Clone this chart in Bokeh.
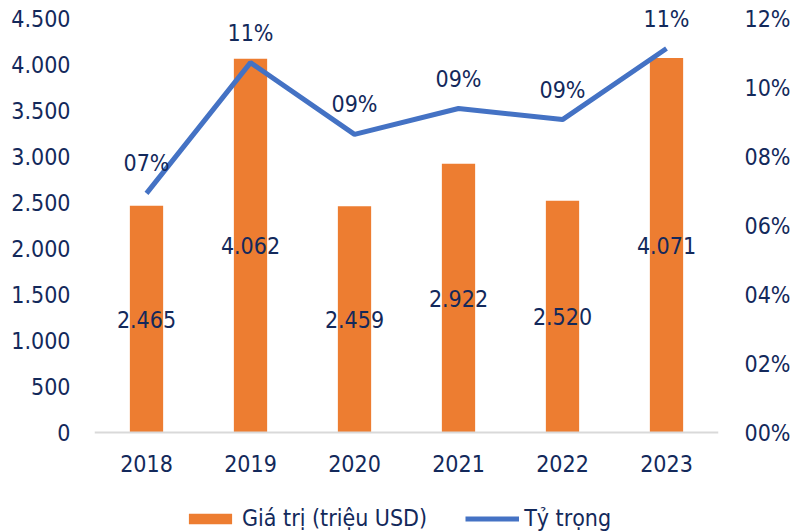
from bokeh.plotting import figure
from bokeh.models import (ColumnDataSource, FactorRange, Range1d, LinearAxis, FixedTicker,
                          CustomJSTickFormatter, Legend, LegendItem, LabelSet, Span)
from bokeh.core.properties import value
from bokeh.embed import file_html
from bokeh.resources import INLINE

years = ["2018", "2019", "2020", "2021", "2022", "2023"]
values = [2465, 4062, 2459, 2922, 2520, 4071]
shares = [6.93, 10.72, 8.64, 9.39, 9.07, 11.13]
left_ticks = [0, 500, 1000, 1500, 2000, 2500, 3000, 3500, 4000, 4500]
right_ticks = [0, 2, 4, 6, 8, 10, 12]

FONT = "DejaVu Sans Condensed"
TXT = "#13295B"
BAR = "#ED7D31"
LINE = "#4472C4"
FS = "23px"

W, H = 794, 531
LEFT, RIGHT = 94, 76
TOP_Y = 18               # pixel row of the top tick (4.500 / 12%)
AXIS_Y = 432             # pixel row of the zero line
span_px = AXIS_Y - TOP_Y
lmax_t, rmax_t = 4500, 12
# the frame covers the whole canvas height; extend the ranges so ticks land on the right rows
lmin = -lmax_t * (H - AXIS_Y) / span_px
rmin = -rmax_t * (H - AXIS_Y) / span_px
lmax = lmax_t + lmax_t * TOP_Y / span_px
rmax = rmax_t + rmax_t * TOP_Y / span_px

def dotted(v):
    return f"{v:,}".replace(",", ".")

src = ColumnDataSource(dict(
    x=years, v=values, mid=[v / 2 for v in values], vl=[dotted(v) for v in values],
    s=shares, sl=["%02d%%" % round(s) for s in shares], zero=[0] * len(years),
))

p = figure(width=W, height=H, x_range=FactorRange(*years, range_padding=0),
           y_range=Range1d(lmin, lmax), output_backend="svg", toolbar_location=None,
           min_border_left=LEFT, min_border_right=RIGHT, min_border_top=0,
           min_border_bottom=0)
p.extra_y_ranges = {"pct": Range1d(rmin, rmax)}
p.outline_line_color = None
p.grid.visible = False
p.background_fill_color = "white"
p.xaxis.visible = False

bars = p.vbar(x="x", top="v", width=0.32, source=src, fill_color=BAR, line_color=None)
p.add_layout(Span(location=0, dimension="width", line_color="#D9D9D9", line_width=2))
line = p.line(x="x", y="s", source=src, y_range_name="pct", line_color=LINE, line_width=5)

common = dict(text_align="center", text_baseline="middle", text_font=value(FONT),
              text_font_size=FS, text_color=TXT, source=src)
p.add_layout(LabelSet(x="x", y="mid", text="vl", **common))
p.add_layout(LabelSet(x="x", y="s", text="sl", y_range_name="pct", y_offset=30, **common))
p.add_layout(LabelSet(x="x", y="zero", text="x", y_offset=-31, **common))

# left axis
ya = p.yaxis[0]
ya.ticker = FixedTicker(ticks=left_ticks)
ya.formatter = CustomJSTickFormatter(code="return tick.toFixed(0).replace(/\\B(?=(\\d{3})+(?!\\d))/g, '.');")
ya.axis_line_color = None
ya.major_tick_line_color = None
ya.minor_tick_line_color = None
ya.major_label_text_font = FONT
ya.major_label_text_font_size = FS
ya.major_label_text_color = TXT
ya.major_label_standoff = 18

ra = LinearAxis(y_range_name="pct", ticker=FixedTicker(ticks=right_ticks),
                formatter=CustomJSTickFormatter(code="return (tick < 10 ? '0' : '') + tick.toFixed(0) + '%';"))
ra.axis_line_color = None
ra.major_tick_line_color = None
ra.minor_tick_line_color = None
ra.major_label_text_font = FONT
ra.major_label_text_font_size = FS
ra.major_label_text_color = TXT
ra.major_label_standoff = 20
p.add_layout(ra, "right")

legend = Legend(items=[LegendItem(label="Giá trị (triệu USD)", renderers=[bars]),
                       LegendItem(label="Tỷ trọng", renderers=[line])],
                orientation="horizontal", location=(89, 0),
                glyph_width=54, glyph_height=13, label_standoff=5, spacing=38,
                label_text_font=FONT, label_text_font_size=FS, label_text_color=TXT,
                border_line_color=None, background_fill_alpha=0,
                padding=0, margin=0)
p.add_layout(legend, "center")

open("out.html", "w").write(file_html(p, INLINE))
